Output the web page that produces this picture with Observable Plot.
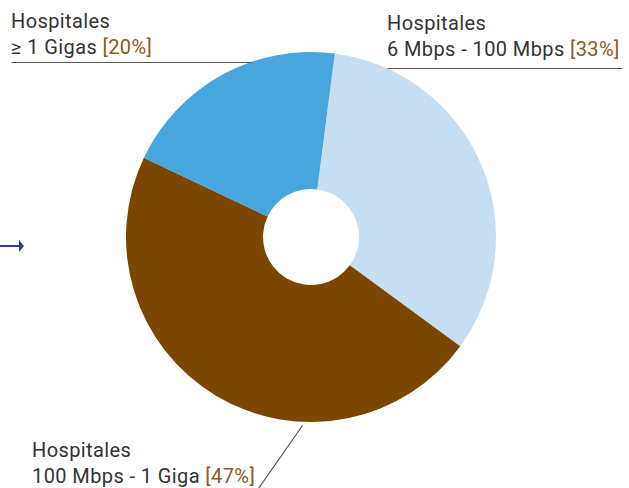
<!DOCTYPE html>
<html>
<head>
<meta charset="utf-8">
<script src="https://cdn.jsdelivr.net/npm/d3@7"></script>
<script src="https://cdn.jsdelivr.net/npm/@observablehq/plot@0.6"></script>
<style>
  html, body { margin: 0; padding: 0; background: #fff; }
  #chart svg { display: block; }
</style>
</head>
<body>
<div id="chart"></div>
<script>
// ---- Data ----
const categories = ["6 Mbps - 100 Mbps", "100 Mbps - 1 Giga", "≥ 1 Gigas"];
const values = [33, 47, 20];
const prefix = "Hospitales";
const colors = ["#c6def1", "#7b4700", "#48a6dc"];

// ---- Layout (pixel space) ----
const W = 629, H = 488;
const center = {x: 311, y: 237};
const outerR = 185, innerR = 48;
const startDeg = 7.4;
const labelLayout = [
  {x: 387, y: 30, line: [387, 68, 622, 68]},
  {x: 32, y: 457, line: [302, 425, 258, 488]},
  {x: 11, y: 28, line: [11, 62, 251, 62]}
];
const arrowLayout = {x1: 0, x2: 24, y: 246};

const table = categories.map((c, i) => ({category: c, value: values[i], color: colors[i], ...labelLayout[i]}));

const pie = d3.pie().sort(null).value(d => d.value)
  .startAngle(startDeg * Math.PI / 180)
  .endAngle(startDeg * Math.PI / 180 + 2 * Math.PI);
const arcs = pie(table);
const total = d3.sum(values);

function donut(index, scales) {
  const cx = scales.x(center.x), cy = scales.y(center.y);
  const ro = scales.x(center.x + outerR) - cx;
  const ri = scales.x(center.x + innerR) - cx;
  const arc = d3.arc().innerRadius(ri).outerRadius(ro);
  const g = d3.create("svg:g").attr("transform", `translate(${cx},${cy})`);
  g.selectAll("path").data(arcs).join("path")
    .attr("d", arc)
    .attr("fill", d => d.data.color);
  return g.node();
}

function labels(index, scales) {
  const g = d3.create("svg:g")
    .attr("font-family", "Roboto, 'Noto Sans', sans-serif")
    .attr("font-size", 20)
    .attr("letter-spacing", 0.4)
    .attr("text-anchor", "start");
  for (const d of table) {
    g.append("text")
      .attr("x", scales.x(d.x))
      .attr("y", scales.y(d.y))
      .attr("fill", "#333")
      .text(prefix);
    const t2 = g.append("text")
      .attr("x", scales.x(d.x))
      .attr("y", scales.y(d.y) + 25.5)
      .attr("fill", "#333");
    t2.append("tspan").text(d.category + " ");
    t2.append("tspan").attr("fill", "#8c5a1c").text(`[${Math.round(d.value / total * 100)}%]`);
  }
  return g.node();
}

function arrow(index, scales) {
  const g = d3.create("svg:g");
  const x1 = scales.x(arrowLayout.x1), x2 = scales.x(arrowLayout.x2), y = scales.y(arrowLayout.y);
  g.append("line").attr("x1", x1).attr("x2", x2 - 4).attr("y1", y).attr("y2", y)
    .attr("stroke", "#2b3f8e").attr("stroke-width", 2);
  g.append("path").attr("d", `M${x2 - 5},${y - 6}L${x2},${y}L${x2 - 5},${y + 6}Z`).attr("fill", "#2b3f8e");
  return g.node();
}

const chart = Plot.plot({
  width: W,
  height: H,
  margin: 0,
  x: {domain: [0, W], range: [0, W], axis: null},
  y: {domain: [0, H], range: [0, H], axis: null},
  style: {background: "#fff", overflow: "visible"},
  marks: [
    donut,
    Plot.link(table, {
      x1: d => d.line[0], y1: d => d.line[1],
      x2: d => d.line[2], y2: d => d.line[3],
      stroke: "#555", strokeWidth: 1.2
    }),
    labels,
    arrow
  ]
});
document.getElementById("chart").appendChild(chart);
</script>
</body>
</html>
